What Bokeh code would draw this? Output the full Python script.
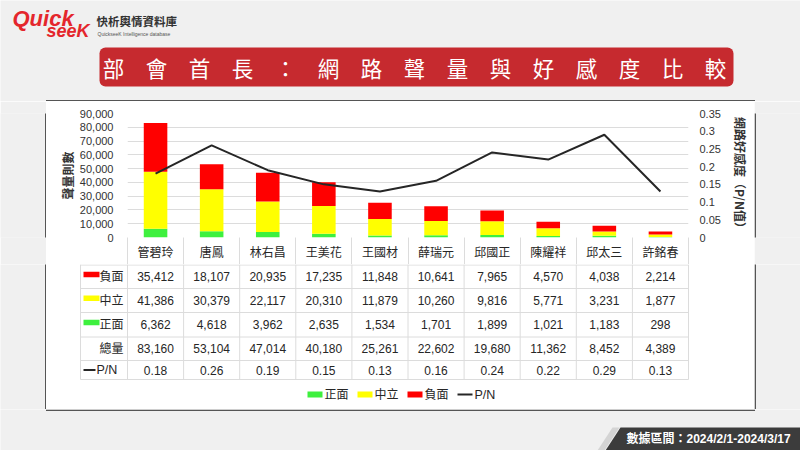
from bokeh.plotting import figure
from bokeh.layouts import column, row
from bokeh.models import Range1d, LinearAxis, FixedTicker
from bokeh.core.properties import value
from bokeh.embed import file_html
from bokeh.resources import INLINE
import numpy as np

# ---------------- data ----------------
names = ["管碧玲", "唐鳳", "林右昌", "王美花", "王國材", "薛瑞元", "邱國正", "陳耀祥", "邱太三", "許銘春"]
negative = [35412, 18107, 20935, 17235, 11848, 10641, 7965, 4570, 4038, 2214]
neutral = [41386, 30379, 22117, 20310, 11879, 10260, 9816, 5771, 3231, 1877]
positive = [6362, 4618, 3962, 2635, 1534, 1701, 1899, 1021, 1183, 298]
total = [83160, 53104, 47014, 40180, 25261, 22602, 19680, 11362, 8452, 4389]
pn_ratio = [0.18, 0.26, 0.19, 0.15, 0.13, 0.16, 0.24, 0.22, 0.29, 0.13]
left_ticks = [0, 10000, 20000, 30000, 40000, 50000, 60000, 70000, 80000, 90000]
left_tick_labels = ["0", "10,000", "20,000", "30,000", "40,000", "50,000", "60,000", "70,000", "80,000", "90,000"]
right_ticks = [0, 0.05, 0.1, 0.15, 0.2, 0.25, 0.3, 0.35]
right_tick_labels = ["0", "0.05", "0.1", "0.15", "0.2", "0.25", "0.3", "0.35"]
series_names = ["正面", "中立", "負面"]
title_text = "部　會　首　長　：　網　路　聲　量　與　好　感　度　比　較"
left_axis_title = "聲量則數"
right_axis_title = "網路好感度（P/N值）"
footer_text = "數據區間：2024/2/1-2024/3/17"

# ---------------- layout / style ----------------
W, H = 800, 450
PX0, PY0, PX1, PY1 = 46, 101, 754, 409      # white panel
FL, FR, FT, FB = 127, 688, 113, 237          # chart frame
CH_BOTTOM = 264                              # end of chart figure (names row)
BG = "#f0f0f0"
RED, YEL, GRN = "#ff0000", "#ffff00", "#3ef03e"
LINE = "#262626"
TXT = "#262626"
GRIDC = "#dcdcdc"
BORDER = "#555555"
FONT = "Liberation Sans, Noto Sans CJK TC"
CJK = "Noto Sans CJK TC"

n = len(names)
xc = np.arange(n) + 0.5
cw = (FR - FL) / n
pos = np.array(positive)
neu = np.array(neutral)
neg = np.array(negative)


def deco(w, h, xr, yr, bg):
    f = figure(width=w, height=h, x_range=xr, y_range=yr, output_backend="svg", toolbar_location=None,
               x_axis_location=None, y_axis_location=None, min_border=0,
               background_fill_color=bg, border_fill_color=bg, outline_line_color=None)
    f.xgrid.visible = False
    f.ygrid.visible = False
    return f


def txt(f, x, y, t, size="12px", color=TXT, align="left", font=FONT, style="normal"):
    f.text(x=x, y=y, text=t, text_align=align, text_baseline="middle",
           text_font=value(font), text_font_size=size, text_color=color, text_font_style=style)


def strip(y0, y1, left=True):
    if left:
        f = deco(PX0, y1 - y0, Range1d(0, PX0), Range1d(y1, y0), BG)
        xl = PX0 - 0.75
    else:
        f = deco(W - PX1, y1 - y0, Range1d(PX1, W), Range1d(y1, y0), BG)
        xl = PX1 + 0.75
    f.segment(x0=[xl], x1=[xl], y0=[y0 - 1], y1=[y1 + 1], line_color=BORDER, line_width=1.5)
    return f


# ---------------- header ----------------
hdr = deco(W, PY0, Range1d(0, W), Range1d(PY0, 0), BG)
hdr.quad(left=[99], right=[733], top=[47], bottom=[86], fill_color="#c62a2f", line_color=None, border_radius=6)
txt(hdr, [414], [66.5], [title_text], size="21.5px", color="white", align="center", font=CJK)
txt(hdr, [12], [18], ["Quick"], size="22px", color="#e4262c", font="Liberation Sans", style="bold italic")
txt(hdr, [46], [30], ["seeK"], size="18px", color="#e4262c", font="Liberation Sans", style="bold italic")
txt(hdr, [96], [20], ["快析輿情資料庫"], size="11.5px", color="#333333", font=CJK, style="bold")
txt(hdr, [97], [33], ["QuickseeK Intelligence database"], size="5px", color="#555555", font="Liberation Sans")
hdr.segment(x0=[PX0 - 0.5], x1=[PX1 + 0.5], y0=[PY0 - 0.75], y1=[PY0 - 0.75], line_color=BORDER, line_width=1.5)

# ---------------- chart ----------------
p = figure(width=PX1 - PX0, height=CH_BOTTOM - PY0, x_range=Range1d(0, n), y_range=Range1d(0, 90000),
           output_backend="svg", toolbar_location=None,
           min_border_left=FL - PX0, min_border_right=PX1 - FR, min_border_top=FT - PY0,
           min_border_bottom=CH_BOTTOM - FB,
           background_fill_color="white", border_fill_color="white", outline_line_color=None)
p.extra_y_ranges = {"pn": Range1d(0, 0.35)}
p.xgrid.visible = False
p.ygrid.grid_line_color = GRIDC
p.ygrid.grid_line_width = 1

xa = p.xaxis[0]
xa.ticker = FixedTicker(ticks=list(xc), minor_ticks=list(range(n + 1)))
xa.major_label_overrides = {float(c): nm for c, nm in zip(xc, names)}
xa.axis_line_color = None
xa.major_tick_line_color = None
xa.major_tick_out = 0
xa.major_tick_in = 0
xa.minor_tick_line_color = GRIDC
xa.minor_tick_line_width = 1
xa.minor_tick_out = CH_BOTTOM - FB
xa.minor_tick_in = 0
xa.major_label_standoff = 8 - (CH_BOTTOM - FB)
xa.major_label_text_font = FONT
xa.major_label_text_font_size = "12px"
xa.major_label_text_color = TXT

ya = p.yaxis[0]
ya.ticker = FixedTicker(ticks=left_ticks)
ya.major_label_overrides = {t: l for t, l in zip(left_ticks, left_tick_labels)}
ya.axis_line_color = None
ya.major_tick_line_color = None
ya.minor_tick_line_color = None
ya.major_tick_out = 0
ya.major_tick_in = 0
ya.major_label_standoff = 14
ya.major_label_text_font = FONT
ya.major_label_text_font_size = "11px"
ya.major_label_text_color = "#333333"
ya.axis_label = left_axis_title
ya.axis_label_text_font = CJK
ya.axis_label_text_font_size = "12px"
ya.axis_label_text_font_style = "bold"
ya.axis_label_text_color = "#333333"
ya.axis_label_standoff = 1

ra = LinearAxis(y_range_name="pn", ticker=FixedTicker(ticks=right_ticks))
ra.major_label_overrides = {t: l for t, l in zip(right_ticks, right_tick_labels)}
ra.axis_line_color = None
ra.major_tick_line_color = None
ra.minor_tick_line_color = None
ra.major_tick_out = 0
ra.major_tick_in = 0
ra.major_label_standoff = 11
ra.major_label_text_font = FONT
ra.major_label_text_font_size = "11px"
ra.major_label_text_color = "#333333"
ra.axis_label = right_axis_title
ra.axis_label_text_font = CJK
ra.axis_label_text_font_size = "12px"
ra.axis_label_text_font_style = "bold"
ra.axis_label_text_color = "#333333"
ra.axis_label_standoff = 8
p.add_layout(ra, "right")

bw = 0.42
p.vbar(x=xc, width=bw, bottom=0, top=pos, fill_color=GRN, line_color=None)
p.vbar(x=xc, width=bw, bottom=pos, top=pos + neu, fill_color=YEL, line_color=None)
p.vbar(x=xc, width=bw, bottom=pos + neu, top=pos + neu + neg, fill_color=RED, line_color=None)
p.line(x=xc, y=pn_ratio, y_range_name="pn", line_color=LINE, line_width=2)

# ---------------- table ----------------
tx = lambda X: (X - FL) / cw
tbl = deco(PX1 - PX0, PY1 - CH_BOTTOM, Range1d(tx(PX0), tx(PX1)), Range1d(PY1, CH_BOTTOM), "white")
row_edges = [CH_BOTTOM + 0.5, 288, 312, 336.5, 360, 379]
LX = 80
tbl.segment(x0=[tx(LX)] * len(row_edges), x1=[n] * len(row_edges), y0=row_edges, y1=row_edges,
            line_color=GRIDC, line_width=1)
vx = [tx(LX)] + list(range(n + 1))
tbl.segment(x0=vx, x1=vx, y0=[CH_BOTTOM] * len(vx), y1=[row_edges[-1]] * len(vx), line_color=GRIDC, line_width=1)

row_c = [(row_edges[k] + row_edges[k + 1]) / 2 for k in range(len(row_edges) - 1)]
rows_vals = [
    [f"{v:,}" for v in negative],
    [f"{v:,}" for v in neutral],
    [f"{v:,}" for v in positive],
    [f"{v:,}" for v in total],
    [f"{v:.2f}" for v in pn_ratio],
]
for k, vals in enumerate(rows_vals):
    txt(tbl, xc, [row_c[k]] * n, vals, align="center")

for k, (nm, col) in enumerate([(series_names[2], RED), (series_names[1], YEL), (series_names[0], GRN)]):
    Yc = row_c[k]
    tbl.quad(left=[tx(83)], right=[tx(99)], top=[Yc - 5], bottom=[Yc + 0.5], fill_color=col, line_color=None)
    txt(tbl, [tx(123)], [Yc], [nm], align="right")
txt(tbl, [tx(123)], [row_c[3]], ["總量"], align="right")
tbl.segment(x0=[tx(83)], x1=[tx(95)], y0=[row_c[4]], y1=[row_c[4]], line_color=LINE, line_width=2)
txt(tbl, [tx(96)], [row_c[4]], ["P/N"], size="12.5px")

# legend
LY = 394
lx = 307
for nm, col in [(series_names[0], GRN), (series_names[1], YEL), (series_names[2], RED)]:
    tbl.quad(left=[tx(lx)], right=[tx(lx + 15)], top=[LY - 3], bottom=[LY + 3], fill_color=col, line_color=None)
    txt(tbl, [tx(lx + 17)], [LY], [nm])
    lx += 50
tbl.segment(x0=[tx(lx)], x1=[tx(lx + 15)], y0=[LY], y1=[LY], line_color=LINE, line_width=2)
txt(tbl, [tx(lx + 17)], [LY], ["P/N"], size="12.5px")

# ---------------- footer ----------------
ftr = deco(W, H - PY1, Range1d(0, W), Range1d(H, PY1), BG)
ftr.segment(x0=[PX0 - 0.5], x1=[PX1 + 0.5], y0=[PY1 + 0.75], y1=[PY1 + 0.75], line_color=BORDER, line_width=1.5)
ftr.patch(x=[597, 612, 619, 604], y=[450, 427, 427, 450], fill_color="#d4d4d4", line_color=None)
ftr.patch(x=[605, 620, 800, 800], y=[450, 427, 427, 450], fill_color="#3c3c3c", line_color=None)
txt(ftr, [626], [438.5], [footer_text], size="12px", color="white", font=FONT, style="bold")

layout = column(hdr,
                row(strip(PY0, CH_BOTTOM, True), p, strip(PY0, CH_BOTTOM, False)),
                row(strip(CH_BOTTOM, PY1, True), tbl, strip(CH_BOTTOM, PY1, False)),
                ftr)
open("out.html", "w").write(file_html(layout, INLINE))
